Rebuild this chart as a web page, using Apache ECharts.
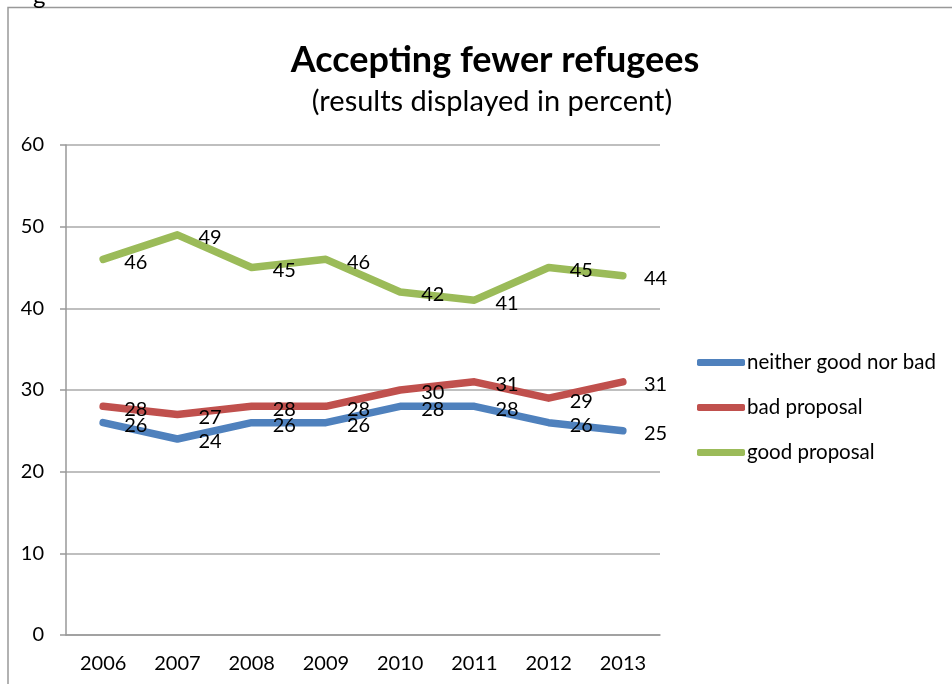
<!DOCTYPE html>
<html><head><meta charset="utf-8">
<script src="https://cdn.jsdelivr.net/npm/echarts@6/dist/echarts.min.js"></script>
<style>html,body{margin:0;padding:0;background:#fff}#c{width:952px;height:684px}</style>
</head><body><div id="c"></div>
<script>
const years = ['2006','2007','2008','2009','2010','2011','2012','2013'];
const neither = [26,24,26,26,28,28,26,25];
const bad = [28,27,28,28,30,31,29,31];
const good = [46,49,45,46,42,41,45,44];
const seriesNames = ['neither good nor bad','bad proposal','good proposal'];
const colors = ['#4F81BD','#C0504D','#9BBB59'];
const FONT = 'Lato, "Open Sans", sans-serif';

function mk(name, vals, color) {
  return {
    name, type: 'line', data: vals,
    symbol: 'circle', symbolSize: 0, showSymbol: true,
    lineStyle: { width: 7.5, color, cap: 'round', join: 'round' },
    itemStyle: { color },
    label: { show: true, position: 'right', distance: 21, offset: [0, 3],
      color: '#000', fontSize: 20, fontFamily: FONT },
    emphasis: { disabled: true }
  };
}

const chart = echarts.init(document.getElementById('c'), null, { renderer: 'canvas' });
chart.setOption({
  backgroundColor: '#fff',
  animation: false,
  title: [
    { text: 'Accepting fewer refugees', left: 490, top: 37, textAlign: 'center',
      textStyle: { fontSize: 36, fontWeight: 'bold', color: '#000', fontFamily: FONT } },
    { text: '(results displayed in percent)', left: 487, top: 82, textAlign: 'center',
      textStyle: { fontSize: 29, fontWeight: 'normal', color: '#000', fontFamily: FONT } }
  ],
  legend: {
    orient: 'vertical', left: 697, top: 352, itemGap: 24, padding: 0,
    itemWidth: 48, itemHeight: 7, icon: 'roundRect',
    textStyle: { fontSize: 20.5, color: '#000', fontFamily: FONT, padding: [0, 0, 0, -3] },
    data: seriesNames
  },
  grid: { left: 66, right: 292, top: 145, bottom: 49 },
  xAxis: {
    type: 'category', data: years, boundaryGap: true,
    axisLine: { lineStyle: { color: '#999', width: 1.5 } },
    axisTick: { show: false },
    axisLabel: { fontSize: 20, color: '#000', fontFamily: FONT, margin: 19 }
  },
  yAxis: {
    type: 'value', min: 0, max: 60, interval: 10,
    axisLine: { show: true, lineStyle: { color: '#999', width: 1.5 } },
    axisTick: { show: true, length: 6, lineStyle: { color: '#999', width: 1.5 } },
    splitLine: { lineStyle: { color: '#aaa', width: 1.5 } },
    axisLabel: { fontSize: 20, color: '#000', fontFamily: FONT, margin: 22 }
  },
  graphic: [
    { type: 'polyline', shape: { points: [[8, 700], [8, 7.5], [960, 7.5]] },
      style: { stroke: '#999', lineWidth: 1.5, fill: null } },
    { type: 'text', left: 33, top: -16, style: { text: 'g', fontSize: 24, fill: '#000', fontFamily: FONT } }
  ],
  series: [mk(seriesNames[0], neither, colors[0]), mk(seriesNames[1], bad, colors[1]), mk(seriesNames[2], good, colors[2])]
});
</script></body></html>
